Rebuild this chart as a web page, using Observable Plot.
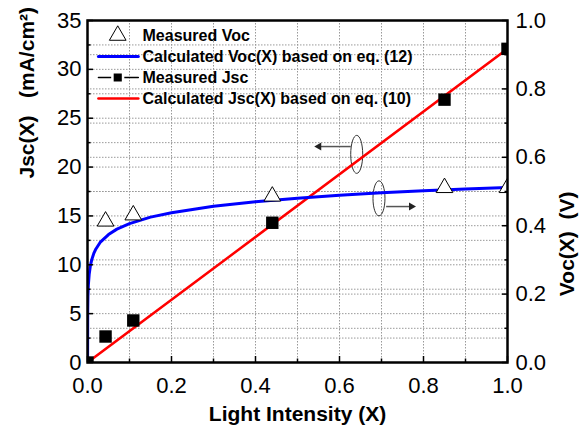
<!DOCTYPE html>
<html><head><meta charset="utf-8">
<script src="https://cdn.jsdelivr.net/npm/d3@7"></script>
<script src="https://cdn.jsdelivr.net/npm/@observablehq/plot@0.6"></script>
<style>body{margin:0;background:#fff}</style>
</head><body><div id="chart"></div>
<script>
// ---- data ----
const xVocMeas = [0.043, 0.109, 0.44, 0.85, 1.0];
const vocMeas  = [0.413, 0.431, 0.486, 0.511, 0.511];

const xJscMeas = [0, 0.043, 0.109, 0.44, 0.85, 1.0];
const jscMeas  = [0, 2.66, 4.3, 14.3, 26.9, 32.1];

const xVocCalc = [0.0002, 0.0005, 0.001, 0.002, 0.004, 0.007, 0.01, 0.015, 0.02, 0.03, 0.05, 0.07, 0.1, 0.15, 0.2, 0.3, 0.4, 0.5, 0.6, 0.7, 0.8, 0.9, 1.0];
const vocCalc  = [0, 0.15, 0.194, 0.226, 0.258, 0.284, 0.300, 0.319, 0.332, 0.351, 0.374, 0.390, 0.406, 0.425, 0.438, 0.457, 0.470, 0.480, 0.489, 0.496, 0.502, 0.507, 0.512];

const xJscCalc = [0, 1.0];
const jscCalc  = [0, 32.1];

const xTicks = [0, 0.2, 0.4, 0.6, 0.8, 1.0];
const xMinor = [0.1, 0.3, 0.5, 0.7, 0.9];
const jTicks = [0, 5, 10, 15, 20, 25, 30, 35];
const jMinor = [2.5, 7.5, 12.5, 17.5, 22.5, 27.5, 32.5];
const vTicks = [0, 0.2, 0.4, 0.6, 0.8, 1.0];
const vMinor = [0.1, 0.3, 0.5, 0.7, 0.9];

const legendLabels = ["Measured Voc", "Calculated Voc(X) based on eq. (12)", "Measured Jsc", "Calculated Jsc(X) based on eq. (10)"];
const legendY = [33.47, 31.32, 29.17, 27.02];
const legendSymX = 0.072, legendLine = [0.026, 0.121], legendTextX = 0.131;

// annotation: ellipses + arrows (data coords, left-axis units)
const ellipses = [{x: 0.641, y: 21.3, rx: 6, ry: 19}, {x: 0.694, y: 16.8, rx: 6, ry: 17.5}];
const arrows = [{x1: 0.627, x2: 0.556, y: 22.1, tip: 0.551, rot: -90}, {x1: 0.711, x2: 0.766, y: 15.96, tip: 0.771, rot: 90}];

const V2J = 35; // right axis (V) -> left axis (mA/cm2) units
const toJ = v => v * V2J;

const ellipseSymbol = (rx, ry) => ({
  draw(ctx) {
    const k = 0.5523;
    ctx.moveTo(rx, 0);
    ctx.bezierCurveTo(rx, ry * k, rx * k, ry, 0, ry);
    ctx.bezierCurveTo(-rx * k, ry, -rx, ry * k, -rx, 0);
    ctx.bezierCurveTo(-rx, -ry * k, -rx * k, -ry, 0, -ry);
    ctx.bezierCurveTo(rx * k, -ry, rx, -ry * k, rx, 0);
    ctx.closePath();
  }
});

const vocMeasData = xVocMeas.map((x, i) => ({x, y: toJ(vocMeas[i])}));
const jscMeasData = xJscMeas.map((x, i) => ({x, y: jscMeas[i]}));
const vocCalcData = xVocCalc.map((x, i) => ({x, y: toJ(vocCalc[i])}));
const jscCalcData = xJscCalc.map((x, i) => ({x, y: jscCalc[i]}));

const grid = {stroke: "#999", strokeOpacity: 1, strokeWidth: 1, strokeDasharray: "1.5,1.5"};
const fs = 22;
const font = "'Liberation Sans', Arial, sans-serif";

const chart = Plot.plot({
  width: 587, height: 435,
  marginLeft: 87, marginRight: 80, marginTop: 20, marginBottom: 73,
  style: {fontFamily: font, background: "white", color: "black"},
  x: {domain: [0, 1]},
  y: {domain: [0, 35]},
  marks: [
    Plot.gridX([...xMinor, ...xTicks.slice(1, -1)], grid),
    Plot.gridY([...jMinor, ...jTicks.slice(1, -1), ...vMinor.map(toJ), ...vTicks.slice(1, -1).map(toJ)], grid),

    // annotations
    ...ellipses.map(e => Plot.dot([e], {x: "x", y: "y", symbol: ellipseSymbol(e.rx, e.ry), fill: "none", stroke: "#333", strokeWidth: 1})),
    Plot.link(arrows, {x1: "x1", x2: "x2", y1: "y", y2: "y", stroke: "#555", strokeWidth: 1.5}),
    Plot.dot(arrows, {x: "tip", y: "y", symbol: "triangle", r: 3, rotate: "rot", fill: "#222", stroke: "none"}),

    // data
    Plot.line(jscCalcData, {x: "x", y: "y", stroke: "#ff0000", strokeWidth: 2.5, clip: true}),
    Plot.line(vocCalcData, {x: "x", y: "y", stroke: "#0000ff", strokeWidth: 3, clip: true}),
    Plot.dot(jscMeasData, {x: "x", y: "y", symbol: "square", r: 7, fill: "black", stroke: "none", clip: true}),
    Plot.dot(vocMeasData, {x: "x", y: "y", symbol: "triangle", r: 6.2, fill: "white", stroke: "black", strokeWidth: 1, clip: true}),

    // legend
    Plot.dot([0], {x: () => legendSymX, y: () => legendY[0], symbol: "triangle", r: 6.2, fill: "white", stroke: "black", strokeWidth: 1}),
    Plot.line(legendLine, {x: d => d, y: () => legendY[1], stroke: "#0000ff", strokeWidth: 3}),
    Plot.line(legendLine, {x: d => d, y: () => legendY[2], stroke: "black", strokeWidth: 1.5}),
    Plot.dot([0], {x: () => legendSymX, y: () => legendY[2], symbol: "square", r: 6, fill: "black", stroke: "white", strokeWidth: 2.5}),
    Plot.line(legendLine, {x: d => d, y: () => legendY[3], stroke: "#ff0000", strokeWidth: 2.5}),
    Plot.text(legendLabels, {x: () => legendTextX, y: (d, i) => legendY[i], text: d => d, textAnchor: "start", fontSize: 16, fontWeight: "bold", fill: "black"}),

    Plot.frame({stroke: "black", strokeWidth: 2.5}),

    // axes (inward ticks)
    Plot.axisX(xTicks, {tickSize: -6, tickPadding: 21, tickFormat: d => d.toFixed(1), fontSize: fs, label: null, strokeWidth: 1.5}),
    Plot.axisX(xMinor, {tickSize: -3.5, tickFormat: () => "", label: null, strokeWidth: 1.5}),
    Plot.axisY(jTicks, {tickSize: -6, tickPadding: 12, tickFormat: d => String(d), fontSize: fs, label: null, strokeWidth: 1.5}),
    Plot.axisY(jMinor, {tickSize: -3.5, tickFormat: () => "", label: null, strokeWidth: 1.5}),
    Plot.axisY(vTicks.map(toJ), {anchor: "right", tickSize: -6, tickPadding: 14, tickFormat: d => (d / V2J).toFixed(1), fontSize: fs, label: null, strokeWidth: 1.5}),
    Plot.axisY(vMinor.map(toJ), {anchor: "right", tickSize: -3.5, tickFormat: () => "", label: null, strokeWidth: 1.5}),

    // axis titles
    Plot.text(["Light Intensity (X)"], {frameAnchor: "bottom", dy: 58, text: d => d, fontSize: 21, fontWeight: "bold", fill: "black"}),
    Plot.text(["Jsc(X)\u00a0\u00a0\u00a0(mA/cm\u00b2)"], {frameAnchor: "left", dx: -60, dy: -13, rotate: -90, text: d => d, fontSize: 21, fontWeight: "bold", fill: "black"}),
    Plot.text(["Voc(X)\u00a0\u00a0(V)"], {frameAnchor: "right", dx: 60, dy: 0, rotate: -90, text: d => d, fontSize: 21, fontWeight: "bold", fill: "black"})
  ]
});
document.getElementById("chart").append(chart);
</script>
</body></html>
